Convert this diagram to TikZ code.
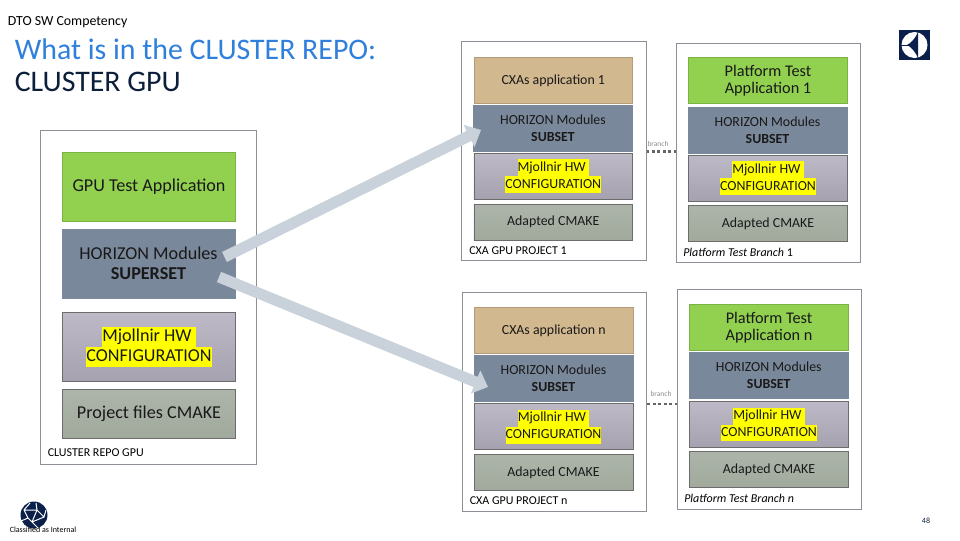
\documentclass[tikz,border=0pt]{standalone}
\usepackage{fontspec}
\setmainfont{Carlito}
\usetikzlibrary{arrows.meta}
\definecolor{titleblue}{HTML}{2F7FDC}
\definecolor{titlenavy}{HTML}{0B1F3A}
\definecolor{logonavy}{HTML}{0A1F4A}
\definecolor{framegray}{HTML}{8C9096}
\definecolor{appgreen}{HTML}{92D050}
\definecolor{modgray}{HTML}{7A889B}
\definecolor{apptan}{HTML}{D2B88F}
\definecolor{arrowgray}{HTML}{C9D1DA}
\definecolor{hlyellow}{HTML}{FFFF00}
\newcommand{\hlt}[1]{{\setlength{\fboxsep}{0pt}\colorbox{hlyellow}{\strut #1}}}
\begin{document}
\begin{tikzpicture}[
    x=0.75pt, y=-0.75pt,
    frame/.style={draw=framegray, fill=white, line width=0.7pt, minimum width=138.5pt, minimum height=164.5pt, inner sep=0pt},
    layer/.style={draw=#1!85!black, line width=0.5pt, inner sep=0pt, align=center, text=black!90, font=\fontsize{10.4}{12.6}\selectfont, minimum width=119pt},
    layer/.default=gray,
    modbox/.style={layer, draw=modgray, fill=modgray},
    tall/.style={minimum height=34.5pt},
    low/.style={minimum height=27pt},
    big/.style={font=\fontsize{13.6}{15}\selectfont, minimum width=130pt, minimum height=51.5pt},
    hwbox/.style={layer, top color=hwtop, bottom color=hwbot},
    cmakebox/.style={layer, low, top color=cmtop, bottom color=cmbot},
    caption/.style={anchor=west, inner sep=0pt, font=\fontsize{9}{10}\selectfont},
    bigarrow/.style={-{Triangle[width=18pt, length=10pt]}, arrowgray, line width=8.3pt},
    branchline/.style={draw=black!60, line width=2.2pt, dash pattern=on 2.2pt off 1.9pt},
    branchtext/.style={inner sep=0pt, text=black!45, font=\fontsize{5.6}{6}\selectfont}
]
    \definecolor{hwtop}{HTML}{BDB9C6}
    \definecolor{hwbot}{HTML}{A5A1AF}
    \definecolor{cmtop}{HTML}{ADB5AA}
    \definecolor{cmbot}{HTML}{A0A99C}
    \useasboundingbox (0,0) rectangle (960,540);

    % header
    \node[anchor=west, inner sep=0pt, font=\fontsize{10.4}{12}\selectfont] (dept) at (7.5,22) {DTO SW Competency};
    \node[anchor=west, inner sep=0pt, text=titleblue, font=\fontsize{22.4}{26}\selectfont] (title) at (14.5,49) {What is in the CLUSTER REPO:};
    \node[anchor=west, inner sep=0pt, text=titlenavy, font=\fontsize{22.4}{26}\selectfont] (subtitle) at (14.5,82) {CLUSTER GPU};

    % left side
    \node[frame, minimum width=162pt, minimum height=250.5pt] (repo) at (148.5,297) {};
    \node[layer=appgreen, big, fill=appgreen] (gputest) at (149,186.5) {GPU Test Application};
    \node[modbox, big] (superset) at (148.5,263.5) {HORIZON Modules\\\textbf{SUPERSET}};
    \node[hwbox, big] (hwrepo) at (149,347) {\hlt{Mjollnir HW }\\\hlt{CONFIGURATION}};
    \node[cmakebox, big, minimum height=36.5pt] (cmrepo) at (149,413.5) {Project files CMAKE};
    \node[caption] at (47.5,453) (repolabel) {CLUSTER REPO GPU};

    % project 1
    \node[frame] (cxaone) at (553.75,151.25) {};
    \node[layer=apptan, tall, fill=apptan] (appone) at (553.25,80.5) {CXAs application 1};
    \node[modbox, tall] (subone) at (553,128) {HORIZON Modules\\\textbf{SUBSET}};
    \node[hwbox, tall] (hwone) at (553.25,176.25) {\hlt{Mjollnir HW }\\\hlt{CONFIGURATION}};
    \node[cmakebox] (cmone) at (553.25,222) {Adapted CMAKE};
    \node[caption] (cxaonelabel) at (469,251) {CXA GPU PROJECT 1};

    % branch 1
    \node[frame] (platone) at (768.5,153) {};
    \node[layer=appgreen, tall, fill=appgreen, font=\fontsize{12.2}{12.8}\selectfont] (testone) at (768,80.5) {Platform Test\\Application 1};
    \node[modbox, tall] (subtwo) at (767.5,130) {HORIZON Modules\\\textbf{SUBSET}};
    \node[hwbox, tall] (hwtwo) at (768,178.25) {\hlt{Mjollnir HW }\\\hlt{CONFIGURATION}};
    \node[cmakebox] (cmtwo) at (768,223.5) {Adapted CMAKE};
    \node[caption] (platonelabel) at (683,252.5) {\textit{Platform Test Branch} 1};

    % project n
    \node[frame] (cxan) at (554.5,401.75) {};
    \node[layer=apptan, tall, fill=apptan] (appn) at (553.75,330.5) {CXAs application n};
    \node[modbox, tall] (subn) at (553.5,378) {HORIZON Modules\\\textbf{SUBSET}};
    \node[hwbox, tall] (hwn) at (553.5,426.75) {\hlt{Mjollnir HW }\\\hlt{CONFIGURATION}};
    \node[cmakebox] (cmn) at (553.5,472.5) {Adapted CMAKE};
    \node[caption] (cxanlabel) at (469.5,500.5) {CXA GPU PROJECT n};

    % branch n
    \node[frame] (platn) at (769.5,399.5) {};
    \node[layer=appgreen, tall, fill=appgreen, font=\fontsize{12.2}{12.8}\selectfont] (testn) at (769,327.5) {Platform Test\\Application n};
    \node[modbox, tall] (subm) at (768.75,375.5) {HORIZON Modules\\\textbf{SUBSET}};
    \node[hwbox, tall] (hwm) at (769,424.5) {\hlt{Mjollnir HW }\\\hlt{CONFIGURATION}};
    \node[cmakebox] (cmm) at (769,469.5) {Adapted CMAKE};
    \node[caption] (platnlabel) at (684,498) {\textit{Platform Test Branch n}};

    % connectors
    \coordinate (outup) at (224.5,257);
    \coordinate (tipup) at (481,130);
    \coordinate (outdown) at (219,277);
    \coordinate (tipdown) at (488,387);
    \draw[bigarrow] (outup) -- (tipup);
    \draw[bigarrow] (outdown) -- (tipdown);
    \draw[branchline] (cxaone.east) -- (cxaone.east -| platone.west);
    \draw[branchline] ([yshift=-1.7pt]cxan.east) -- ([yshift=-1.7pt]cxan.east -| platn.west);
    \node[branchtext] (branchone) at (658,144) {branch};
    \node[branchtext] (branchn) at (661,394) {branch};

    % logos and footer
    \fill[logonavy] (899,30) rectangle (930,60);
    \fill[white] (914.5,45) circle [radius=13];
    \fill[logonavy] (907,45) .. controls (911,43) and (915,39) .. (918,32) -- (918,58) .. controls (915,51) and (911,47) .. (907,45) -- cycle;
    \draw[logonavy, line width=0.6pt] (901,45) -- (908,45);
    \fill[logonavy] (34,515) circle [radius=13.5];
    \draw[white, line width=0.75pt] (24,510) -- (37,510) -- (44,517) -- (32,522) -- (28,518) -- (24,510)
        (37,510) -- (32,522) (37,510) -- (36,503) (24,510) -- (30,503) (44,517) -- (46,510) (32,522) -- (38,528) (28,518) -- (21,521);
    \node[inner sep=0pt, font=\fontsize{6}{7}\selectfont] (classified) at (43,530) {Classified as Internal};
    \node[inner sep=0pt, text=titlenavy, font=\fontsize{6}{7}\selectfont] (pagenum) at (926,521) {48};
\end{tikzpicture}
\end{document}
